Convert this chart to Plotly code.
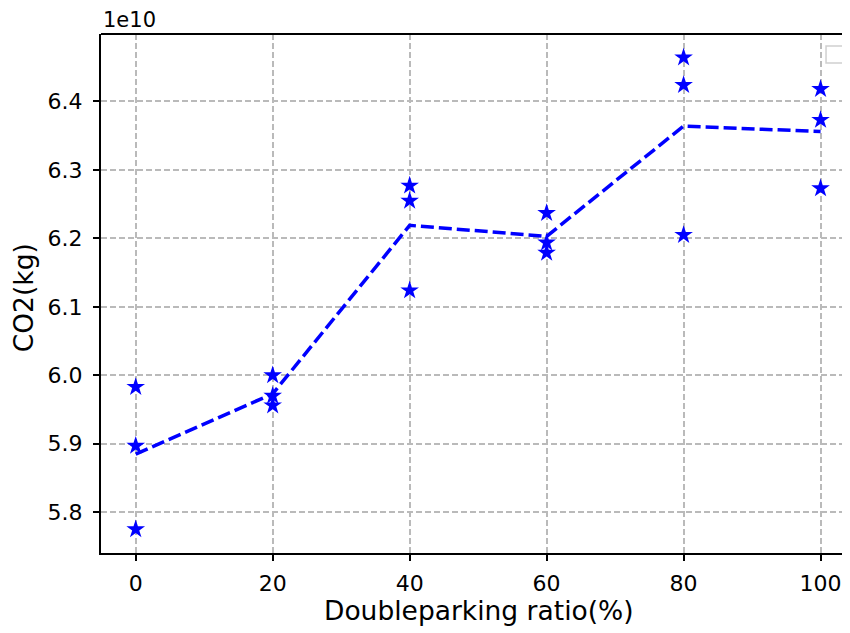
import plotly.graph_objects as go

# Data (values in units of 1e10 kg, as shown by the axis offset "1e10")
ratio = [0, 20, 40, 60, 80, 100]
run_a = [5.983, 6.000, 6.277, 6.237, 6.464, 6.418]
run_b = [5.897, 5.970, 6.255, 6.194, 6.424, 6.373]
run_c = [5.775, 5.956, 6.124, 6.179, 6.205, 6.273]
mean_line = [5.885, 5.973, 6.219, 6.203, 6.364, 6.356]
x_ticks = [0, 20, 40, 60, 80, 100]
y_ticks = [5.8, 5.9, 6.0, 6.1, 6.2, 6.3, 6.4]
y_tick_text = ["5.8", "5.9", "6.0", "6.1", "6.2", "6.3", "6.4"]

FONT = "DejaVu Sans"
BLUE = "#0000ff"

fig = go.Figure()

fig.add_trace(go.Scatter(
    x=ratio, y=mean_line, mode="lines",
    line=dict(color=BLUE, width=3.5, dash="13px,5px"),
    showlegend=False, hoverinfo="skip"))

for series in (run_a, run_b, run_c):
    fig.add_trace(go.Scatter(
        x=ratio, y=series, mode="markers",
        marker=dict(symbol="star", size=14, color=BLUE, line=dict(width=0)),
        showlegend=False))

grid_style = dict(showgrid=True, gridcolor="#bababa", griddash="6px,3px", gridwidth=1.5,
                  zeroline=False, ticks="outside", ticklen=6, tickwidth=1.5,
                  tickcolor="black", tickfont=dict(family=FONT, size=22, color="black"),
                  showline=True, linecolor="black", linewidth=2)

fig.update_xaxes(range=[-5.07, 104.3], tickvals=x_ticks, mirror=False,
                 ticklabelstandoff=4, **grid_style)
fig.update_yaxes(range=[5.7405, 6.4985], tickvals=y_ticks, ticktext=y_tick_text,
                 ticklabelstandoff=6, **grid_style)

# top spine
fig.add_shape(type="line", xref="paper", yref="paper", x0=0, x1=1, y0=1, y1=1,
              line=dict(color="black", width=2))
# empty legend frame
fig.add_shape(type="rect", xref="paper", yref="paper",
              x0=0.968, x1=0.9933, y0=0.944, y1=0.977,
              line=dict(color="#d0d0d0", width=1.5), fillcolor="white")

fig.add_annotation(text="Doubleparking ratio(%)", xref="paper", yref="paper",
                   x=0.5047, y=-0.110, xanchor="center", yanchor="middle",
                   showarrow=False, font=dict(family=FONT, size=26.5, color="black"))
fig.add_annotation(text="CO2(kg)", xref="paper", yref="paper",
                   x=-0.104, y=0.491, xanchor="center", yanchor="middle", textangle=-90,
                   showarrow=False, font=dict(family=FONT, size=26.5, color="black"))
fig.add_annotation(text="1e10", xref="paper", yref="paper",
                   x=0, y=1.027, xanchor="left", yanchor="middle",
                   showarrow=False, font=dict(family=FONT, size=21, color="black"))

# page body has an 8px margin: shift everything up/left by 8px
fig.update_layout(width=842, height=625, plot_bgcolor="white", paper_bgcolor="white",
                  margin=dict(l=93, r=0, t=26, b=80.3), showlegend=False)

fig.write_html("out.html")
